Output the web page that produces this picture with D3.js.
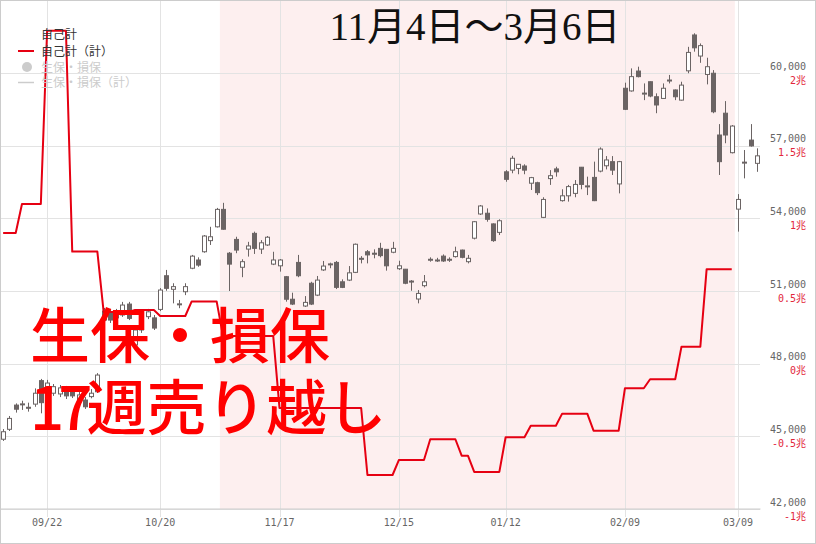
<!DOCTYPE html>
<html>
<head>
<meta charset="utf-8">
<script src="https://cdn.jsdelivr.net/npm/d3@7"></script>
<style>
  body { margin: 0; background: #fff; }
  svg { display: block; }
</style>
</head>
<body>
<script>
// trading days, 2025-09-10 .. 2026-03-12
const dates = [
  "2025-09-10","2025-09-11","2025-09-12",
  "2025-09-16","2025-09-17","2025-09-18","2025-09-19",
  "2025-09-22","2025-09-24","2025-09-25","2025-09-26",
  "2025-09-29","2025-09-30","2025-10-01","2025-10-02","2025-10-03",
  "2025-10-06","2025-10-07","2025-10-08","2025-10-09","2025-10-10",
  "2025-10-14","2025-10-15","2025-10-16","2025-10-17",
  "2025-10-20","2025-10-21","2025-10-22","2025-10-23","2025-10-24",
  "2025-10-27","2025-10-28","2025-10-29","2025-10-30","2025-10-31",
  "2025-11-04","2025-11-05","2025-11-06","2025-11-07",
  "2025-11-10","2025-11-11","2025-11-12","2025-11-13","2025-11-14",
  "2025-11-17","2025-11-18","2025-11-19","2025-11-20","2025-11-21",
  "2025-11-25","2025-11-26","2025-11-27","2025-11-28",
  "2025-12-01","2025-12-02","2025-12-03","2025-12-04","2025-12-05",
  "2025-12-08","2025-12-09","2025-12-10","2025-12-11","2025-12-12",
  "2025-12-15","2025-12-16","2025-12-17","2025-12-18","2025-12-19",
  "2025-12-22","2025-12-23","2025-12-24","2025-12-25","2025-12-26",
  "2025-12-29","2025-12-30",
  "2026-01-05","2026-01-06","2026-01-07","2026-01-08","2026-01-09",
  "2026-01-13","2026-01-14","2026-01-15","2026-01-16",
  "2026-01-19","2026-01-20","2026-01-21","2026-01-22","2026-01-23",
  "2026-01-26","2026-01-27","2026-01-28","2026-01-29","2026-01-30",
  "2026-02-02","2026-02-03","2026-02-04","2026-02-05","2026-02-06",
  "2026-02-09","2026-02-10","2026-02-12","2026-02-13",
  "2026-02-16","2026-02-17","2026-02-18","2026-02-19","2026-02-20",
  "2026-02-24","2026-02-25","2026-02-26","2026-02-27",
  "2026-03-02","2026-03-03","2026-03-04","2026-03-05","2026-03-06",
  "2026-03-09","2026-03-10","2026-03-11","2026-03-12"
];

const open = [
  44880,45290,46290,46330,46200,46330,47300,46710,46780,46750,
  47000,46940,46460,46500,46640,46840,50170,50140,49890,50010,
  50460,48770,49390,49940,49890,50240,51630,51070,50460,50970,
  51940,52280,52620,53080,53650,54370,52560,53130,51980,52730,
  53380,52730,52900,52110,52040,51590,50660,52180,50380,51320,
  50830,51870,52110,52180,51380,51450,51770,52350,52620,52560,
  52760,52720,52600,51920,51900,51410,50670,51220,52300,52280,
  52440,52300,52420,52690,52210,53180,54180,54210,53770,53420,
  55920,55990,56060,56160,55450,55470,54040,55640,56040,54730,
  54930,55030,56110,55330,55690,55950,56170,56340,55420,59370,
  59260,60080,59160,59640,59020,58950,59700,59300,58880,60090,
  61570,60700,59940,59990,57440,58340,56710,54380,56310,57230,
  56270
];
const high = [
  45300,45840,46360,46470,46390,46980,47370,47330,47160,47120,
  47080,47040,46830,46620,46950,47610,50300,50260,50260,50550,
  50550,49470,49970,50260,50010,51120,51870,51320,50630,51320,
  52490,52390,53310,53650,54430,54640,52610,53240,52310,53030,
  53450,53100,53270,52620,52320,51620,50930,52490,50790,51380,
  51620,52240,52170,52240,51480,52030,52960,52440,52690,52720,
  52990,52730,53030,52250,51910,51450,51040,51660,52390,52370,
  52510,52390,52830,52710,52490,53890,54550,54410,53790,53960,
  55990,56580,56240,56230,55710,55510,54870,55990,56130,55200,
  55380,55580,56120,55720,56340,56930,56570,56570,56370,59600,
  60190,60260,59570,59650,59160,59570,59920,59320,59640,61080,
  61640,61220,60630,60120,57890,58840,57850,55000,56820,57890,
  56890
];
const low = [
  44810,45220,45980,46090,46020,46220,45950,46580,46670,46620,
  46540,46580,46330,46130,46570,46790,49720,49680,49760,49930,
  49800,48650,49270,49840,49390,50170,51010,50490,50290,50830,
  51900,52000,52580,52900,53620,53530,51000,52560,51570,52420,
  52530,52530,52860,52070,51800,50560,50420,51570,50340,50420,
  50790,51830,51940,51080,51120,51410,51740,52140,52140,52350,
  52390,51840,52560,51870,51280,51010,50490,51150,52210,52200,
  52200,52200,52380,52350,52140,53130,54140,53860,53030,53310,
  55510,55860,55820,55820,55170,54960,54010,55380,55720,54690,
  54690,54870,55200,54960,54710,55900,56020,55790,55030,58470,
  59230,59820,58880,59000,58340,58930,59570,58880,58860,59990,
  60880,60420,59530,58340,55790,57100,56680,53450,55650,56960,
  55920
];
const close = [
  45190,45740,46120,46340,46190,46780,46390,47200,47050,47000,
  46670,46670,46710,46220,46780,47530,49800,49800,50130,50420,
  49870,49390,49890,50140,49470,51040,51110,51180,50470,51180,
  52440,52070,53270,53240,54370,53550,52110,52690,52210,52860,
  52760,52990,53220,52280,52280,50660,50460,51630,50530,50460,
  51450,52030,52120,51150,51150,51750,52930,52340,52490,52550,
  52460,52040,52760,52040,51320,51400,50900,51380,52310,52270,
  52240,52310,52620,52390,52350,53860,54510,53960,53080,53900,
  55610,56480,56230,55990,55680,55060,54780,55760,55920,54930,
  55310,55400,55400,55340,54730,56860,56410,55990,56340,58500,
  59850,59850,59170,59050,58680,59370,59710,59020,59500,60850,
  61040,61130,60260,58400,56340,57440,57810,54780,56320,56990,
  56580
];

// weekly cumulative flow (億円), keyed by the Monday of each week
const flowWeeks = [
  "2025-09-08","2025-09-15","2025-09-22","2025-09-29","2025-10-06","2025-10-13",
  "2025-10-20","2025-10-27","2025-11-03","2025-11-10","2025-11-17","2025-11-24",
  "2025-12-01","2025-12-08","2025-12-15","2025-12-22","2025-12-29","2026-01-05",
  "2026-01-12","2026-01-19","2026-01-26","2026-02-02","2026-02-09","2026-02-16",
  "2026-02-23","2026-03-02"
];
const flowValues = [
  8990, 10990, 22910, 7710, 3560, 3690,
  3280, 4270, 1910, 1910, -3050, -3050,
  -3050, -7660, -6630, -5200, -6330, -7450,
  -5060, -4270, -3440, -4610, -1690, -1070,
  1170, 6490
];

const priceTicks = [42000, 45000, 48000, 51000, 54000, 57000, 60000];
const flowTicks = [-10000, -5000, 0, 5000, 10000, 15000, 20000];
const flowTickLabels = ["-1兆", "-0.5兆", "0兆", "0.5兆", "1兆", "1.5兆", "2兆"];
const tickDates = ["2025-09-22","2025-10-20","2025-11-17","2025-12-15","2026-01-13","2026-02-09","2026-03-09"];
const tickLabels = ["09/22","10/20","11/17","12/15","01/12","02/09","03/09"];
const shadeFrom = "2025-11-04", shadeTo = "2026-03-06";

const legendItems = ["自己計", "自己計（計）", "生保・損保", "生保・損保（計）"];
const title = "11月4日～3月6日";
const captionLine1 = "生保・損保";
const captionWeeks = "17";
const captionRest = "週売り越し";

const W = 816, H = 544;
const plotW = 760, plotTop = 0, plotBottom = 509;
const candleColor = "#6b6464";
const red = "#e60012";

const svg = d3.select("body").append("svg").attr("width", W).attr("height", H);
svg.append("rect").attr("width", W).attr("height", H).attr("fill", "#fff");

const x = d3.scaleBand().domain(dates).range([0, plotW]).paddingInner(0.3).paddingOuter(0.15);
const xc = d => x(d) + x.bandwidth() / 2;
const y = d3.scaleLinear().domain([42000, 60000]).range([509, 73]);
const yFlow = d3.scaleLinear().domain([-10000, 20000]).range([509, 73]);

// shaded period
svg.append("rect")
  .attr("x", xc(shadeFrom) - x.step() / 2)
  .attr("y", plotTop)
  .attr("width", xc(shadeTo) - xc(shadeFrom) + x.step())
  .attr("height", plotBottom - plotTop)
  .attr("fill", "#fdefef");

// grid
svg.append("g").selectAll("line").data(priceTicks).enter().append("line")
  .attr("x1", 0).attr("x2", plotW)
  .attr("y1", d => Math.round(y(d)) + 0.5).attr("y2", d => Math.round(y(d)) + 0.5)
  .attr("stroke", "#e3e3e3");
svg.append("g").selectAll("line").data(tickDates).enter().append("line")
  .attr("x1", d => Math.round(xc(d)) + 0.5).attr("x2", d => Math.round(xc(d)) + 0.5)
  .attr("y1", plotTop).attr("y2", plotBottom + 8)
  .attr("stroke", "#e3e3e3");

// bottom axis
const xAxis = svg.append("g")
  .attr("transform", "translate(0," + (plotBottom - 0.5) + ")")
  .call(d3.axisBottom(x).tickValues(tickDates).tickSize(0).tickPadding(10)
    .tickFormat((d, i) => tickLabels[i]));
xAxis.select(".domain").attr("stroke", "#cccccc");
xAxis.selectAll("text")
  .attr("fill", "#666")
  .style("font-family", "'DejaVu Sans Mono', monospace")
  .style("font-size", "10px");

// right axis: price + flow labels
const yAxis = svg.append("g")
  .attr("transform", "translate(806,0)")
  .call(d3.axisLeft(y).tickValues(priceTicks).tickSize(0).tickPadding(0).tickFormat(d3.format(",")));
yAxis.select(".domain").remove();
yAxis.selectAll("text")
  .attr("y", -7)
  .attr("fill", "#666")
  .style("font-family", "'DejaVu Sans Mono', monospace")
  .style("font-size", "10px");

const fAxis = svg.append("g")
  .attr("transform", "translate(806,0)")
  .call(d3.axisLeft(yFlow).tickValues(flowTicks).tickSize(0).tickPadding(0)
    .tickFormat((d, i) => flowTickLabels[i]));
fAxis.select(".domain").remove();
fAxis.selectAll("text")
  .attr("y", 7)
  .attr("fill", "#e2263b")
  .style("font-family", "'DejaVu Sans Mono', 'Noto Sans CJK JP', monospace")
  .style("font-size", "10px");

// candles
const candles = dates.map((d, i) => ({ d: d, o: open[i], h: high[i], l: low[i], c: close[i] }));
const cg = svg.append("g");
cg.selectAll(".wick").data(candles).enter().append("line")
  .attr("class", "wick")
  .attr("x1", d => Math.round(xc(d.d)) + 0.5).attr("x2", d => Math.round(xc(d.d)) + 0.5)
  .attr("y1", d => y(d.h)).attr("y2", d => y(d.l))
  .attr("stroke", candleColor);
cg.selectAll(".body").data(candles).enter().append("rect")
  .attr("class", "body")
  .attr("x", d => Math.round(xc(d.d)) - 1.5)
  .attr("y", d => y(Math.max(d.o, d.c)))
  .attr("width", 4)
  .attr("height", d => Math.max(1, Math.abs(y(d.o) - y(d.c))))
  .attr("fill", d => d.c >= d.o ? "#fff" : candleColor)
  .attr("stroke", candleColor);

// flow line (weekly value held through the week's trading days)
const parse = d3.timeParse("%Y-%m-%d");
const fmt = d3.timeFormat("%Y-%m-%d");
const flowByWeek = new Map(flowWeeks.map((w, i) => [w, flowValues[i]]));
const flowDaily = dates
  .map(d => ({ d: d, v: flowByWeek.get(fmt(d3.timeMonday.floor(parse(d)))) }))
  .filter(p => p.v !== undefined);
svg.append("path")
  .datum(flowDaily)
  .attr("fill", "none")
  .attr("stroke", red)
  .attr("stroke-width", 2)
  .attr("stroke-linejoin", "round")
  .attr("d", d3.line().x(p => xc(p.d)).y(p => yFlow(p.v)));

// legend
const lg = svg.append("g").style("font-family", "'Noto Sans CJK JP', sans-serif").style("font-size", "12px");
lg.append("text").attr("x", 41).attr("y", 38.5).attr("fill", "#333").text(legendItems[0]);
lg.append("line").attr("x1", 18).attr("x2", 34).attr("y1", 51).attr("y2", 51).attr("stroke", red).attr("stroke-width", 2);
lg.append("text").attr("x", 41).attr("y", 55.5).attr("fill", "#333").text(legendItems[1]);
lg.append("circle").attr("cx", 27).attr("cy", 67).attr("r", 5).attr("fill", "#ccc");
lg.append("text").attr("x", 41).attr("y", 71.5).attr("fill", "#ccc").text(legendItems[2]);
lg.append("line").attr("x1", 18).attr("x2", 34).attr("y1", 82.5).attr("y2", 82.5).attr("stroke", "#ccc").attr("stroke-width", 1.5);
lg.append("text").attr("x", 41).attr("y", 87).attr("fill", "#ccc").text(legendItems[3]);

// title and caption
svg.append("text")
  .attr("x", 475).attr("y", 40)
  .attr("text-anchor", "middle")
  .attr("fill", "#111")
  .style("font-family", "'Liberation Serif', 'Noto Sans CJK JP', serif")
  .style("font-size", "39px")
  .text(title);

const capStyle = s => s.attr("fill", "#f00")
  .style("font-family", "'Noto Sans CJK JP', sans-serif")
  .style("font-size", "60px")
  .style("font-weight", 500);

svg.append("text").attr("x", 30).attr("y", 358).call(capStyle).text(captionLine1);
const cap2 = svg.append("text").attr("x", 30).attr("y", 430).call(capStyle);
cap2.append("tspan").attr("letter-spacing", "-6px").text(captionWeeks);
cap2.append("tspan").text(captionRest);

// frame
svg.append("rect").attr("x", 0.5).attr("y", 0.5).attr("width", W - 1).attr("height", H - 1)
  .attr("fill", "none").attr("stroke", "#cccccc");
</script>
</body>
</html>
